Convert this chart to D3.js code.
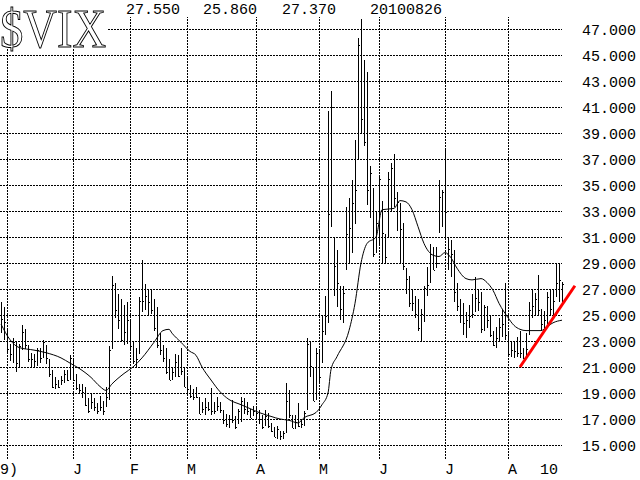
<!DOCTYPE html>
<html><head><meta charset="utf-8">
<script src="https://cdn.jsdelivr.net/npm/d3@7"></script>
<style>html,body{margin:0;padding:0;background:#fff;overflow:hidden}</style>
</head><body>
<svg id="c" width="640" height="480"></svg>
<script>
// ---------------- data ----------------
const symbol = "$VIX";
const dates = [
"2009-11-27","2009-11-30",
"2009-12-01","2009-12-02","2009-12-03","2009-12-04","2009-12-07","2009-12-08","2009-12-09","2009-12-10","2009-12-11",
"2009-12-14","2009-12-15","2009-12-16","2009-12-17","2009-12-18","2009-12-21","2009-12-22","2009-12-23","2009-12-24",
"2009-12-28","2009-12-29","2009-12-30","2009-12-31",
"2010-01-04","2010-01-05","2010-01-06","2010-01-07","2010-01-08","2010-01-11","2010-01-12","2010-01-13","2010-01-14",
"2010-01-15","2010-01-19","2010-01-20","2010-01-21","2010-01-22","2010-01-25","2010-01-26","2010-01-27","2010-01-28","2010-01-29",
"2010-02-01","2010-02-02","2010-02-03","2010-02-04","2010-02-05","2010-02-08","2010-02-09","2010-02-10","2010-02-11","2010-02-12",
"2010-02-16","2010-02-17","2010-02-18","2010-02-19","2010-02-22","2010-02-23","2010-02-24","2010-02-25","2010-02-26",
"2010-03-01","2010-03-02","2010-03-03","2010-03-04","2010-03-05","2010-03-08","2010-03-09","2010-03-10","2010-03-11","2010-03-12",
"2010-03-15","2010-03-16","2010-03-17","2010-03-18","2010-03-19","2010-03-22","2010-03-23","2010-03-24","2010-03-25","2010-03-26",
"2010-03-29","2010-03-30","2010-03-31",
"2010-04-01","2010-04-05","2010-04-06","2010-04-07","2010-04-08","2010-04-09","2010-04-12","2010-04-13","2010-04-14","2010-04-15",
"2010-04-16","2010-04-19","2010-04-20","2010-04-21","2010-04-22","2010-04-23","2010-04-26","2010-04-27","2010-04-28","2010-04-29","2010-04-30",
"2010-05-03","2010-05-04","2010-05-05","2010-05-06","2010-05-07","2010-05-10","2010-05-11","2010-05-12","2010-05-13","2010-05-14",
"2010-05-17","2010-05-18","2010-05-19","2010-05-20","2010-05-21","2010-05-24","2010-05-25","2010-05-26","2010-05-27","2010-05-28",
"2010-06-01","2010-06-02","2010-06-03","2010-06-04","2010-06-07","2010-06-08","2010-06-09","2010-06-10","2010-06-11",
"2010-06-14","2010-06-15","2010-06-16","2010-06-17","2010-06-18","2010-06-21","2010-06-22","2010-06-23","2010-06-24","2010-06-25",
"2010-06-28","2010-06-29","2010-06-30",
"2010-07-01","2010-07-02","2010-07-06","2010-07-07","2010-07-08","2010-07-09","2010-07-12","2010-07-13","2010-07-14","2010-07-15",
"2010-07-16","2010-07-19","2010-07-20","2010-07-21","2010-07-22","2010-07-23","2010-07-26","2010-07-27","2010-07-28","2010-07-29","2010-07-30",
"2010-08-02","2010-08-03","2010-08-04","2010-08-05","2010-08-06","2010-08-09","2010-08-10","2010-08-11","2010-08-12","2010-08-13",
"2010-08-16","2010-08-17","2010-08-18","2010-08-19","2010-08-20","2010-08-23","2010-08-24","2010-08-25","2010-08-26"
];
const highs = [
26.0,25.6,
24.0,22.8,23.2,23.0,22.8,24.2,23.9,22.7,22.1,22.0,22.5,22.5,23.1,22.7,21.6,20.8,20.2,20.0,20.3,20.8,20.8,21.9,
21.7,20.5,19.7,19.7,19.5,18.6,19.0,18.6,18.2,18.8,18.4,19.5,22.6,28.0,27.5,26.6,26.2,25.8,26.0,
24.6,22.9,22.5,26.4,29.2,27.4,27.0,26.9,26.2,25.6,23.6,22.7,22.5,21.6,21.0,22.0,21.9,22.5,21.0,
20.3,19.6,19.3,19.5,18.7,18.3,18.6,18.3,19.4,18.3,18.7,18.3,17.7,17.4,17.3,18.5,17.2,17.8,18.7,18.6,18.3,17.8,18.0,
17.9,17.7,17.3,17.7,17.5,16.7,16.4,16.5,16.1,16.1,19.8,19.2,17.3,17.3,18.2,17.0,17.6,23.2,22.9,21.0,22.5,
22.4,25.0,26.5,40.7,42.2,31.0,30.0,27.2,27.2,33.3,34.0,35.4,38.5,46.3,47.8,44.6,43.7,36.5,34.8,33.0,
35.6,33.8,31.2,36.0,36.7,37.4,34.5,33.6,32.1,28.6,28.0,26.9,26.5,26.2,25.5,27.2,28.7,30.5,30.2,30.2,35.4,34.6,
37.7,31.0,30.8,30.0,27.5,26.2,25.9,25.2,25.8,26.6,27.9,26.9,26.8,25.8,25.7,25.0,23.8,24.1,24.8,25.4,27.5,
23.8,23.0,22.9,23.3,23.8,22.5,23.6,26.0,26.9,26.7,28.1,25.5,25.3,26.8,26.9,27.0,29.0,29.0,27.55
];
const lows = [
23.6,23.1,
22.0,21.5,21.3,20.6,21.0,22.3,22.4,21.4,21.0,20.9,21.1,21.3,21.7,21.2,20.2,19.4,19.3,19.4,19.6,19.8,19.9,20.0,
19.9,19.2,18.9,18.6,18.0,17.5,17.8,17.6,17.4,17.6,17.3,17.9,18.5,22.4,24.8,23.9,22.9,22.7,22.8,
22.4,21.2,21.0,22.0,25.2,25.4,25.0,25.1,23.8,22.5,21.9,21.4,20.5,20.0,20.0,20.2,20.2,20.4,19.5,
19.0,18.6,18.5,18.6,17.4,17.5,17.3,17.6,17.3,17.4,17.6,17.5,16.6,16.4,16.3,16.7,16.2,16.6,16.8,17.4,17.3,17.1,17.2,
17.0,16.6,16.2,16.5,16.3,16.0,15.6,15.5,15.4,15.5,15.9,17.1,16.3,16.2,16.4,16.3,16.5,17.7,20.2,18.4,18.5,
19.8,21.3,23.5,24.4,31.8,26.5,25.6,24.6,24.4,28.5,28.9,29.8,32.0,36.9,39.0,38.0,33.5,32.5,29.5,29.8,
30.5,29.0,29.0,31.0,33.0,33.3,31.5,29.0,28.5,26.6,25.6,25.3,24.8,23.8,22.9,24.5,26.5,27.5,28.5,28.6,31.3,31.8,
31.0,28.5,27.9,26.0,25.3,24.4,23.5,23.2,24.0,24.8,25.2,25.3,23.6,23.8,24.0,23.3,22.6,22.5,22.9,23.3,23.1,
21.9,21.8,21.7,21.8,21.7,21.6,21.6,23.5,24.8,25.0,25.0,23.8,23.9,24.3,25.0,25.0,26.4,26.0,25.86
];
const closes = [
24.7,24.5,
22.4,22.0,22.9,21.3,22.6,23.7,22.7,21.6,21.6,21.5,22.3,21.7,22.9,21.7,20.5,19.5,19.7,19.5,20.0,20.5,20.0,21.7,
20.0,19.4,19.2,19.1,18.1,17.6,18.3,17.9,17.6,17.9,17.6,18.7,22.3,27.3,25.4,24.6,23.1,23.7,24.6,
22.6,21.5,21.6,26.1,26.1,26.5,26.0,25.4,24.0,22.7,22.3,21.7,20.6,20.0,20.6,21.4,20.3,20.7,19.5,
19.3,18.8,18.7,18.7,17.4,17.8,17.9,17.8,17.6,17.6,18.0,17.7,16.9,16.6,17.0,16.9,16.4,17.6,18.4,17.8,17.6,17.1,17.6,
17.5,17.0,16.4,17.2,16.5,16.1,15.6,16.2,15.7,15.9,18.4,17.3,16.3,16.8,16.5,16.6,17.5,22.8,21.1,18.4,22.1,
20.2,23.8,24.9,32.8,41.0,28.8,27.5,25.5,26.7,31.2,31.7,33.6,34.6,45.8,40.1,38.3,34.6,35.9,29.7,32.1,
35.5,31.3,29.5,35.5,36.3,34.0,33.7,31.6,28.8,27.8,25.9,25.9,25.1,24.0,25.1,27.1,27.3,29.7,28.5,29.0,34.1,34.5,
32.9,30.1,29.7,26.8,25.7,25.0,24.4,24.6,24.9,25.1,26.3,26.0,23.9,25.6,24.6,23.5,22.7,23.2,24.1,24.3,23.5,
22.0,22.3,22.2,22.1,22.1,21.7,22.4,25.4,25.7,26.2,25.4,24.3,24.6,26.4,25.5,26.1,27.5,27.7,27.37
];
// moving average: [trading-day index, value]
const maIndex = [0,3,6,11,15,20,23,26,30,33,35,37,41,44,47,51,54,56,57,60,63,65,67,70,73,76,80,83,86,90,93,96,99,101,105,107,109,110,112,116,118,120,122,125,127,131,133,135,137,139,141,144,146,148,150,152,155,157,160,162,164,166,169,171,173,175,180,182,184,187];
const maValues = [24.3,23.1,22.5,22.3,22.1,21.7,21.3,20.9,20.2,19.5,19.2,19.7,20.5,21.0,21.7,22.9,23.8,23.9,23.6,22.9,22.2,21.9,21.0,20.0,19.1,18.5,18.1,17.8,17.5,17.2,17.0,16.9,16.7,17.1,17.5,18.1,19.0,20.8,21.8,23.8,25.9,29.0,30.5,31.0,33.1,33.2,33.8,33.7,33.1,31.8,30.5,29.6,29.5,29.8,29.4,28.6,27.8,27.7,27.8,27.5,26.9,25.9,24.8,24.2,23.9,23.8,23.8,24.1,24.4,24.6];
// red trend line: [trading-day index, value]
const trendIndex = [173, 191.3];
const trendValues = [21.0, 27.25];
const yTicks = [15,17,19,21,23,25,27,29,31,33,35,37,39,41,43,45,47];
const monthStarts = ["2009-12-01","2010-01-04","2010-02-01","2010-03-01","2010-04-01","2010-05-03","2010-06-01","2010-07-01","2010-08-02"];
const monthLabels = ["9)","J","F","M","A","M","J","J","A"];
const yearLabel = "10";
const yearLabelDate = "2010-08-16";

// ---------------- drawing ----------------
const W = 640, H = 480;
const N = dates.length;
const svg = d3.select("#c");
const FONT = "'Liberation Mono','DejaVu Sans Mono',monospace";
svg.append("rect").attr("width", W).attr("height", H).attr("fill", "#fff");

const x = d3.scaleLinear().domain([0, N - 1]).range([1, 562]);
const y = d3.scaleLinear().domain([15, 47]).range([445, 29]);
const idxOf = d => dates.indexOf(d);

// horizontal grid
svg.append("g")
  .call(d3.axisLeft(y).tickValues(yTicks).tickSize(-562).tickFormat(""))
  .call(g => g.select(".domain").remove())
  .call(g => g.selectAll("line").attr("stroke", "#000").attr("stroke-dasharray", "2,1").attr("shape-rendering", "crispEdges"));

// vertical grid
const gx = svg.append("g").attr("transform", "translate(0,459)")
  .call(d3.axisBottom(x).tickValues(monthStarts.map(idxOf)).tickSize(-(459 - 17)).tickFormat(""))
  .call(g => g.select(".domain").remove())
  .call(g => g.selectAll("line").attr("stroke", "#000").attr("stroke-dasharray", "2,1").attr("shape-rendering", "crispEdges"));
gx.selectAll(".tick").attr("transform", d => `translate(${Math.round(x(d)) + 0.5},0)`);

// y labels
svg.append("g").attr("transform", "translate(576,1)")
  .call(d3.axisRight(y).tickValues(yTicks).tickFormat(d3.format(".3f")).tickSize(0).tickPadding(6))
  .call(g => g.select(".domain").remove())
  .call(g => g.selectAll("text").attr("font-family", FONT).attr("font-size", 15).attr("fill", "#000"));

// x labels
svg.append("g").selectAll("text").data(monthStarts).join("text")
  .attr("x", (d, i) => i === 0 ? 0 : Math.round(x(idxOf(d))))
  .attr("y", 474)
  .attr("font-family", FONT).attr("font-size", 15).attr("fill", "#000")
  .text((d, i) => monthLabels[i]);
svg.append("text").attr("x", Math.round(x(idxOf(yearLabelDate))) + 2).attr("y", 474)
  .attr("font-family", FONT).attr("font-size", 15).attr("fill", "#000").text(yearLabel);

// price bars
const bars = svg.append("g").attr("stroke", "#000").attr("shape-rendering", "crispEdges");
dates.forEach((d, i) => {
  const xi = Math.round(x(i)) + 0.5;
  bars.append("line").attr("x1", xi).attr("x2", xi).attr("y1", y(highs[i])).attr("y2", y(lows[i]));
  const yc = Math.round(y(closes[i])) + 0.5;
  bars.append("line").attr("x1", xi).attr("x2", xi + 1.5).attr("y1", yc).attr("y2", yc);
});

// moving average
const maLine = d3.line().x(d => x(d[0])).y(d => y(d[1])).curve(d3.curveMonotoneX);
svg.append("path").datum(maIndex.map((k, i) => [k, maValues[i]]))
  .attr("d", maLine).attr("fill", "none").attr("stroke", "#000").attr("stroke-width", 1);

// trend line
svg.append("path").datum(trendIndex.map((k, i) => [k, trendValues[i]]))
  .attr("d", d3.line().x(d => x(d[0])).y(d => y(d[1])))
  .attr("stroke", "#ff0000").attr("stroke-width", 3).attr("fill", "none");

// title
svg.append("rect").attr("x", 0).attr("y", 0).attr("width", 108).attr("height", 48).attr("fill", "#fff");
svg.append("text").attr("x", 0).attr("y", 47)
  .attr("font-family", "'Liberation Serif','DejaVu Serif',serif").attr("font-size", 54)
  .attr("textLength", 106).attr("lengthAdjust", "spacingAndGlyphs")
  .attr("fill", "#fff").attr("stroke", "#000").attr("stroke-width", 1)
  .text(symbol);

// header: last bar high, low, close, date
const last = N - 1;
const hdr = [
  [126, d3.format(".3f")(highs[last])],
  [203, d3.format(".3f")(lows[last])],
  [282, d3.format(".3f")(closes[last])],
  [370, dates[last].replace(/-/g, "")]
];
svg.append("g").selectAll("text").data(hdr).join("text")
  .attr("x", d => d[0]).attr("y", 14)
  .attr("font-family", FONT).attr("font-size", 15).attr("fill", "#000")
  .text(d => d[1]);
</script>
</body></html>
